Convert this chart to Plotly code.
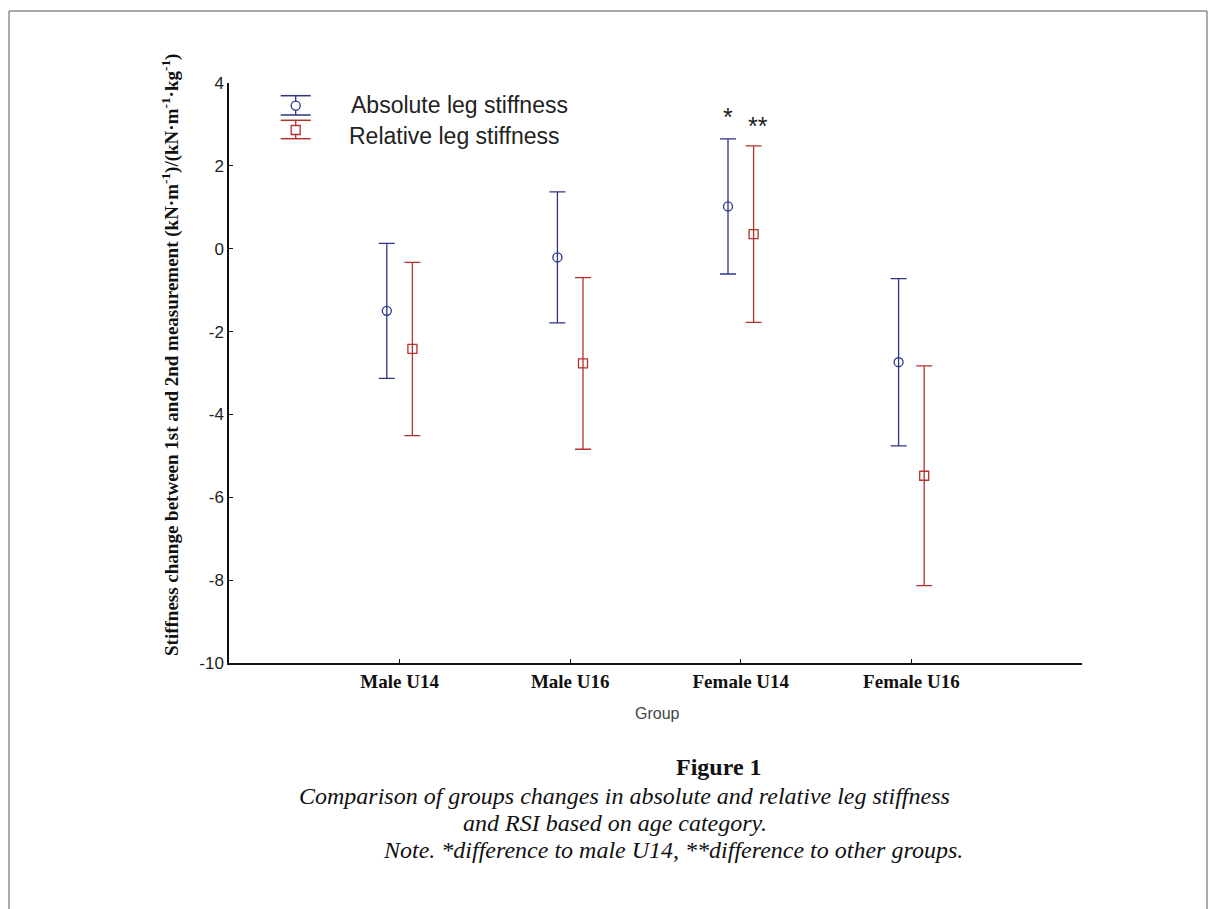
import plotly.graph_objects as go

# ---------------- data ----------------
groups = ["Male U14", "Male U16", "Female U14", "Female U16"]
abs_mean = [-1.50, -0.21, 1.02, -2.74]
abs_err = [1.63, 1.58, 1.63, 2.02]
rel_mean = [-2.42, -2.77, 0.35, -5.48]
rel_err = [2.09, 2.07, 2.13, 2.65]
y_ticks = [4, 2, 0, -2, -4, -6, -8, -10]
series_names = ["Absolute leg stiffness", "Relative leg stiffness"]
sig_marks = {"Female U14": ["*", "**"]}

# ---------------- styling ----------------
W, H = 1218, 909
PAGE = 8                                  # body margin of the html page
L, R, T, B = 229, 1082, 83, 663           # plot area in page pixels
BLUE = "#2e3486"
RED = "#b3322e"
OFF = 0.075                               # dodge of the two series
SERIF = "Liberation Serif, Times New Roman, serif"
SANS = "Liberation Sans, Arial, sans-serif"


def px(x):
    return (x - L) / (R - L)


def py(y):
    return (B - y) / (B - T)


xpos = list(range(1, len(groups) + 1))

fig = go.Figure()
for mean, err, col, sym, off, name in [
    (abs_mean, abs_err, BLUE, "circle-open", -OFF, series_names[0]),
    (rel_mean, rel_err, RED, "square-open", OFF, series_names[1]),
]:
    fig.add_trace(go.Scatter(
        x=[p + off for p in xpos], y=mean, mode="markers", name=name,
        showlegend=False,
        marker=dict(symbol=sym, size=9, color=col, line=dict(width=1.3, color=col)),
        error_y=dict(type="data", array=err, visible=True, color=col,
                     thickness=1.3, width=8),
    ))

# significance marks
for g, marks in sig_marks.items():
    i = groups.index(g)
    for k, (m, mean, err, off) in enumerate(zip(marks, [abs_mean[i], rel_mean[i]],
                                                [abs_err[i], rel_err[i]], [-OFF, OFF])):
        fig.add_annotation(x=xpos[i] + off, y=mean + err, xref="x", yref="y",
                           text=m, showarrow=False, yanchor="bottom",
                           yshift=6 if k == 0 else 4, xshift=0 if k == 0 else 4,
                           font=dict(family=SANS, size=25, color="#222"))

# ---------------- manual legend ----------------
shapes = []
lx = 295.7
leg = [
    (BLUE, 95.7, 105.7, 115.0, "circle", series_names[0], 349, 105),
    (RED, 120.3, 130.0, 138.7, "square", series_names[1], 347, 136),
]
for col, ytop, ymid, ybot, kind, name, tx, ty in leg:
    for yy in (ytop, ybot):
        shapes.append(dict(type="line", xref="paper", yref="paper",
                           x0=px(lx - 15), x1=px(lx + 15), y0=py(yy), y1=py(yy),
                           line=dict(color=col, width=1.5)))
    shapes.append(dict(type="line", xref="paper", yref="paper",
                       x0=px(lx), x1=px(lx), y0=py(ytop), y1=py(ybot),
                       line=dict(color=col, width=1.3)))
    shapes.append(dict(type="circle" if kind == "circle" else "rect",
                       xref="paper", yref="paper",
                       x0=px(lx - 4.5), x1=px(lx + 4.5), y0=py(ymid + 4.5), y1=py(ymid - 4.5),
                       line=dict(color=col, width=1.3), fillcolor="white"))
    fig.add_annotation(x=px(tx), y=py(ty), xref="paper", yref="paper", text=name,
                       showarrow=False, xanchor="left", yanchor="middle",
                       font=dict(family=SANS, size=23, color="#222"))

# outer frame
shapes.append(dict(type="rect", xref="paper", yref="paper",
                   x0=px(9), x1=px(1207), y0=py(960), y1=py(11),
                   line=dict(color="#555", width=1)))

# y axis title
fig.add_annotation(x=px(170), y=py(355), xref="paper", yref="paper",
                   xanchor="center", yanchor="middle",
                   text="<b>Stiffness change between 1st and 2nd measurement "
                        "(kN·m<sup>-1</sup>)/(kN·m<sup>-1</sup>·kg<sup>-1</sup>)</b>",
                   textangle=-90, showarrow=False,
                   font=dict(family=SERIF, size=19, color="#111"))
# x axis title
fig.add_annotation(x=px(657), y=py(713), xref="paper", yref="paper", text="Group",
                   xanchor="center", yanchor="middle",
                   showarrow=False, font=dict(family=SANS, size=16, color="#444"))

# caption
cap = [
    ("<b>Figure 1</b>", 719, 767),
    ("<i>Comparison of groups changes in absolute and relative leg stiffness</i>", 624, 796),
    ("<i>and RSI based on age category.</i>", 615, 823),
    ("<i>Note. *difference to male U14, **difference to other groups.</i>", 673, 850),
]
for txt, cx, cy in cap:
    fig.add_annotation(x=px(cx), y=py(cy), xref="paper", yref="paper", text=txt,
                       showarrow=False, xanchor="center", yanchor="middle",
                       borderpad=0,
                       font=dict(family=SERIF, size=24, color="#111"))

fig.update_layout(
    width=W, height=H,
    margin=dict(l=L - PAGE, r=W - (R - PAGE), t=T - PAGE, b=H - (B - PAGE), pad=0),
    paper_bgcolor="white", plot_bgcolor="white",
    shapes=shapes,
    showlegend=False,
    xaxis=dict(range=[0, 5], tickvals=xpos + [5],
               ticktext=["<b>%s</b>" % g for g in groups] + [""],
               ticks="inside", ticklen=4, tickcolor="#111", showline=True,
               linecolor="#111", linewidth=1.5, showgrid=False, zeroline=False,
               tickfont=dict(family=SERIF, size=19, color="#111"),
               ticklabelstandoff=0),
    yaxis=dict(range=[-10, 4], tickvals=y_ticks, ticktext=[str(v) for v in y_ticks],
               ticks="inside", ticklen=4,
               tickcolor="#111", showline=True, linecolor="#111", linewidth=1.5,
               showgrid=False, zeroline=False,
               tickfont=dict(family=SANS, size=17, color="#222"),
               ticklabelstandoff=0),
)

fig.write_html("out.html")
